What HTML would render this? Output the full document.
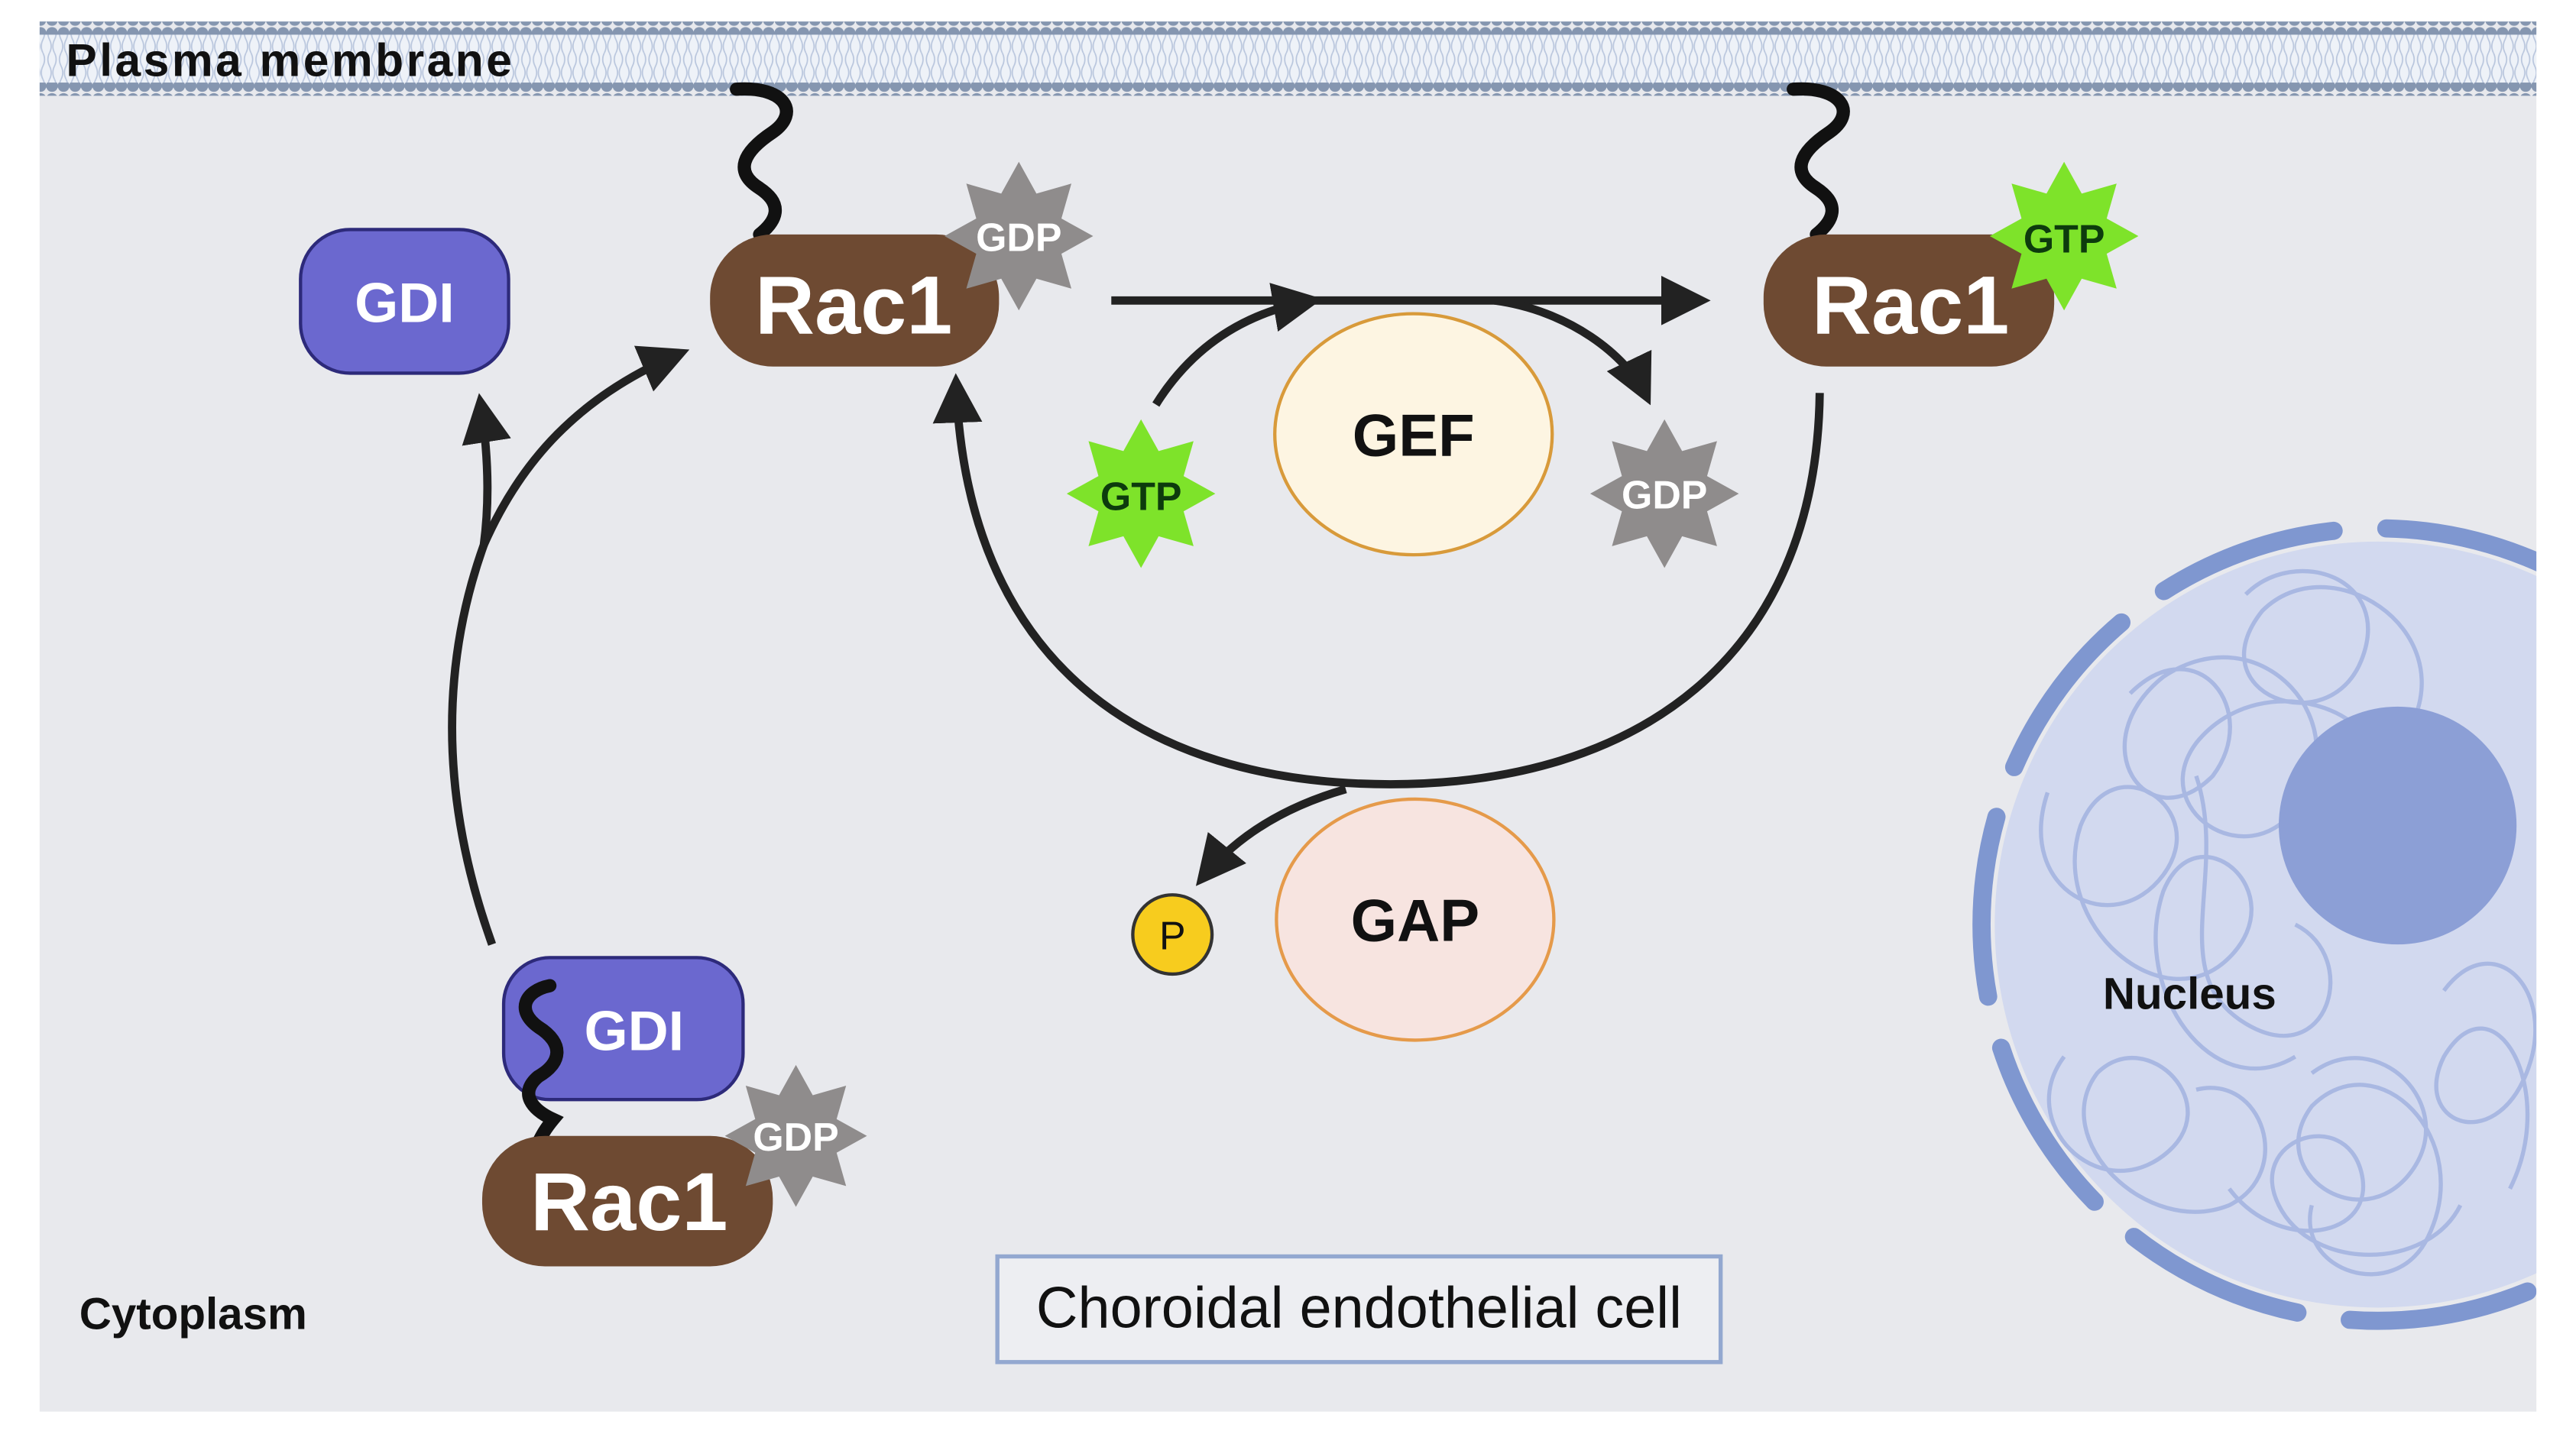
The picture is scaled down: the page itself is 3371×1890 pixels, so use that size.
<!DOCTYPE html>
<html><head><meta charset="utf-8"><style>
html,body{margin:0;padding:0;background:#fff;}
svg{display:block;}
text{font-family:"Liberation Sans",sans-serif;}
</style></head><body>
<svg width="3371" height="1890" viewBox="0 0 1560 874.6" xmlns="http://www.w3.org/2000/svg">
<defs>
<pattern id="dots" width="7" height="8" patternUnits="userSpaceOnUse"><circle cx="3.5" cy="4" r="3.6" fill="#8596b0"/></pattern>
<pattern id="tails" width="7" height="16" patternUnits="userSpaceOnUse"><path d="M2,0 Q0,4 2,8 Q4,12 2,16 M5,0 Q7,4 5,8 Q3,12 5,16" stroke="#b9c6dd" stroke-width="0.8" fill="none"/></pattern>
<polygon id="star" points="0,-1 .237,-.573 .707,-.707 .573,-.237 1,0 .573,.237 .707,.707 .237,.573 0,1 -.237,.573 -.707,.707 -.573,.237 -1,0 -.573,-.237 -.707,-.707 -.237,-.573"/>
<marker id="ah" viewBox="0 0 10 10" refX="8" refY="5" markerWidth="6" markerHeight="6" orient="auto" markerUnits="strokeWidth"><path d="M0,0 L10,5 L0,10 z" fill="#222"/></marker>
<clipPath id="cellclip"><rect x="24" y="14" width="1512" height="841"/></clipPath>
</defs>
<rect x="24" y="14" width="1512" height="841" fill="#e8e9ed"/>
<!-- membrane -->
<rect x="24" y="18" width="1512" height="36" fill="#eef2f8"/>
<rect x="24" y="20" width="1512" height="32" fill="url(#tails)"/>
<rect x="24" y="13" width="1512" height="8" fill="url(#dots)"/>
<rect x="24" y="50" width="1512" height="8" fill="url(#dots)"/>
<text x="40" y="46" font-size="28" font-weight="bold" fill="#111" textLength="270">Plasma membrane</text>

<!-- nucleus -->
<g clip-path="url(#cellclip)">
<circle cx="1440" cy="560" r="232" fill="#d2d9ef"/>
<circle cx="1440" cy="560" r="240" fill="none" stroke="#7f97d0" stroke-width="11" stroke-dasharray="110 32" stroke-linecap="round"/>
<g fill="none" stroke="#a9b8e2" stroke-width="2.5">
<path d="M1290,420 c40,-40 80,10 50,50 c-40,40 -80,-20 -30,-60 c60,-40 120,30 80,80 c-30,40 -90,0 -60,-40 c40,-50 130,-20 110,40"/>
<path d="M1360,360 c30,-30 90,-10 70,40 c-20,50 -100,20 -60,-30 c40,-40 120,10 90,70"/>
<path d="M1240,480 c-20,60 40,90 70,50 c30,-40 -30,-80 -50,-30 c-20,60 50,120 90,80 c40,-40 -20,-90 -40,-40 c-20,60 30,130 80,100"/>
<path d="M1250,640 c-30,40 20,90 60,60 c40,-30 -10,-80 -40,-50 c-30,40 30,100 80,80 c40,-20 20,-80 -20,-70"/>
<path d="M1400,650 c40,-30 90,20 60,60 c-30,40 -90,0 -60,-40 c40,-40 100,20 70,80 c-20,40 -80,20 -70,-20"/>
<path d="M1480,600 c30,-40 70,0 50,50 c-20,50 -70,30 -50,-10 c30,-50 70,20 40,80"/>
<path d="M1350,720 c30,40 90,30 80,-10 c-10,-40 -70,-20 -50,20 c20,40 90,40 110,0"/>
<path d="M1330,470 c20,60 -20,120 30,150 c50,30 70,-40 30,-60"/>
</g>
<circle cx="1452" cy="500" r="72" fill="#8c9fd6"/>
</g>
<text x="1326" y="611" font-size="27" font-weight="bold" fill="#111" text-anchor="middle">Nucleus</text>

<!-- squiggles -->
<g fill="none" stroke="#111" stroke-width="8" stroke-linecap="round">
<path d="M446,54 C475,52 485,68 468,80 C450,92 444,104 460,114 C475,124 470,134 460,142"/>
<path d="M1086,54 C1115,52 1125,68 1108,80 C1090,92 1084,104 1100,114 C1115,124 1110,134 1100,142"/>
</g>

<!-- arrows -->
<g fill="none" stroke="#222" stroke-width="5">
<path d="M673,182 L1030,182" marker-end="url(#ah)"/>
<path d="M700,245 C725,205 760,188 795,182" marker-end="url(#ah)"/>
<path d="M905,182 C950,188 985,215 997,240" marker-end="url(#ah)"/>
<path d="M1102,238 C1100,400 990,475 842,475 C690,475 585,400 579,232" marker-end="url(#ah)"/>
<path d="M815,478 C780,488 750,505 728,532" marker-end="url(#ah)"/>
<path d="M298,572 C265,480 268,400 293,330 C297,300 295,270 291,244" marker-end="url(#ah)"/>
<path d="M293,330 C315,280 350,240 412,214" marker-end="url(#ah)"/>
</g>

<!-- GDI top -->
<rect x="182" y="139" width="126" height="87" rx="30" fill="#6b68cf" stroke="#2d2a7a" stroke-width="2"/>
<text x="245" y="195" font-size="34" font-weight="bold" fill="#fff" text-anchor="middle">GDI</text>

<!-- Rac1 left -->
<rect x="430" y="142" width="175" height="80" rx="38" fill="#6e4a32"/>
<text x="517" y="202" font-size="50" font-weight="bold" fill="#fff" text-anchor="middle">Rac1</text>
<use href="#star" transform="translate(617,143) scale(45)" fill="#8f8c8c"/>
<text x="617" y="152" font-size="24" font-weight="bold" fill="#fff" text-anchor="middle">GDP</text>

<!-- Rac1 right -->
<rect x="1068" y="142" width="176" height="80" rx="38" fill="#6e4a32"/>
<text x="1157" y="202" font-size="50" font-weight="bold" fill="#fff" text-anchor="middle">Rac1</text>
<use href="#star" transform="translate(1250,143) scale(45)" fill="#7ee32a"/>
<text x="1250" y="153" font-size="24" font-weight="bold" fill="#0d3b0d" text-anchor="middle">GTP</text>

<!-- GEF -->
<ellipse cx="856" cy="263" rx="84" ry="73" fill="#fdf5e2" stroke="#d89a3a" stroke-width="2"/>
<text x="856" y="276" font-size="36" font-weight="bold" fill="#111" text-anchor="middle">GEF</text>
<use href="#star" transform="translate(691,299) scale(45)" fill="#7ee32a"/>
<text x="691" y="309" font-size="24" font-weight="bold" fill="#0d3b0d" text-anchor="middle">GTP</text>
<use href="#star" transform="translate(1008,299) scale(45)" fill="#8f8c8c"/>
<text x="1008" y="308" font-size="24" font-weight="bold" fill="#fff" text-anchor="middle">GDP</text>

<!-- GAP -->
<ellipse cx="857" cy="557" rx="84" ry="73" fill="#f7e4e0" stroke="#e59a4a" stroke-width="2"/>
<text x="857" y="570" font-size="36" font-weight="bold" fill="#111" text-anchor="middle">GAP</text>
<circle cx="710" cy="566" r="24" fill="#f7cc1e" stroke="#333" stroke-width="2"/>
<text x="710" y="575" font-size="24" fill="#111" text-anchor="middle">P</text>

<!-- bottom complex -->
<rect x="305" y="580" width="145" height="86" rx="28" fill="#6b68cf" stroke="#2d2a7a" stroke-width="2"/>
<text x="384" y="636" font-size="34" font-weight="bold" fill="#fff" text-anchor="middle">GDI</text>
<path d="M333,597 C318,600 312,612 326,622 C342,632 340,644 326,652 C314,662 322,672 335,678 C330,684 328,688 326,692" fill="none" stroke="#111" stroke-width="8" stroke-linecap="round"/>
<rect x="292" y="688" width="176" height="79" rx="38" fill="#6e4a32"/>
<text x="381" y="745" font-size="50" font-weight="bold" fill="#fff" text-anchor="middle">Rac1</text>
<use href="#star" transform="translate(482,688) scale(43)" fill="#8f8c8c"/>
<text x="482" y="697" font-size="24" font-weight="bold" fill="#fff" text-anchor="middle">GDP</text>

<text x="48" y="805" font-size="27" font-weight="bold" fill="#111">Cytoplasm</text>

<rect x="604" y="761" width="438" height="64" fill="#edeef2" stroke="#93a8d0" stroke-width="2.5"/>
<text x="823" y="804" font-size="35" fill="#111" text-anchor="middle">Choroidal endothelial cell</text>
</svg>
</body></html>
